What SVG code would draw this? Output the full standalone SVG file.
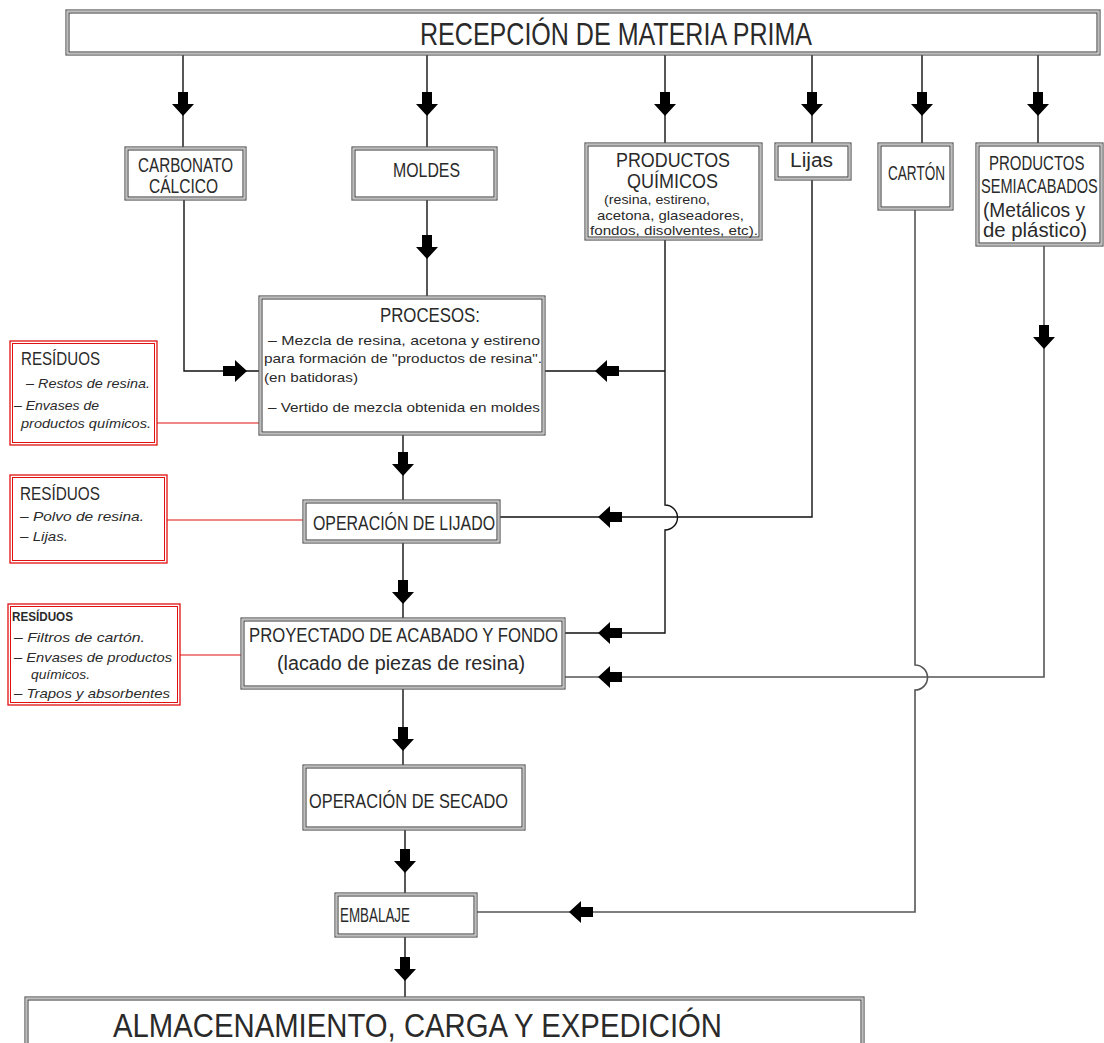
<svg xmlns="http://www.w3.org/2000/svg" xmlns:xlink="http://www.w3.org/1999/xlink" width="1104" height="1043" viewBox="0 0 1104 1043">
<style>
.bo{fill:#fff;stroke:#555;stroke-width:1.2}
.bg{fill:none;stroke:#bdbdbd;stroke-width:1.4}
.bi{fill:none;stroke:#333;stroke-width:1}
.ro{fill:#fff;stroke:#e01010;stroke-width:1.3}
.ri{fill:none;stroke:#e01010;stroke-width:1}
.ln{fill:none;stroke:#111;stroke-width:1.4}
.lg{fill:none;stroke:#555;stroke-width:1.6}
.rl{fill:none;stroke:#e01010;stroke-width:1.2}
text{font-family:"Liberation Sans","DejaVu Sans",sans-serif;fill:#2a2a2a}
.t{font-size:20px}
.s{font-size:13.5px}
.it{font-size:13.5px;font-style:italic}
</style>
<defs>
<path id="ad" d="M-5,-24 H5 V-12 H11 L0,0 L-11,-12 H-5 Z" fill="#000"/>
</defs>

<g id="connectors">
<path class="ln" d="M183,55 V147 M427,55 V147 M665,55 V143 M812,55 V143 M922,55 V143 M1038,55 V143"/>
<use xlink:href="#ad" x="183" y="116"/>
<use xlink:href="#ad" x="427" y="116"/>
<use xlink:href="#ad" x="665" y="116"/>
<use xlink:href="#ad" x="812" y="116"/>
<use xlink:href="#ad" x="922" y="116"/>
<use xlink:href="#ad" x="1038" y="116"/>
<path class="ln" d="M427,200 V296"/>
<use xlink:href="#ad" x="427" y="259"/>
<path class="ln" d="M184,200 V371 H259"/>
<use xlink:href="#ad" transform="translate(247,371) rotate(-90)"/>
<path class="ln" d="M665,240 V505 A12.5,12.5 0 0 1 665,530 V633 H565 M665,371 H545"/>
<use xlink:href="#ad" transform="translate(595,371) rotate(90)"/>
<use xlink:href="#ad" transform="translate(598,633) rotate(90)"/>
<path class="ln" d="M812,180 V517 H500"/>
<use xlink:href="#ad" transform="translate(598,517) rotate(90)"/>
<path class="lg" d="M915,210 V665 A12.5,12.5 0 0 1 915,690 V912 H477"/>
<use xlink:href="#ad" transform="translate(569,912) rotate(90)"/>
<path class="lg" d="M1044,246 V677 H565"/>
<use xlink:href="#ad" x="1044" y="349"/>
<use xlink:href="#ad" transform="translate(598,677) rotate(90)"/>
<path class="ln" d="M403,435 V500"/>
<use xlink:href="#ad" x="403" y="476"/>
<path class="ln" d="M403,543 V618"/>
<use xlink:href="#ad" x="403" y="604"/>
<path class="ln" d="M403,689 V765"/>
<use xlink:href="#ad" x="403" y="751"/>
<path class="ln" d="M405,830 V893"/>
<use xlink:href="#ad" x="405" y="873"/>
<path class="ln" d="M405,937 V997"/>
<use xlink:href="#ad" x="405" y="981"/>
<path class="rl" d="M157,423 H259"/>
<path class="rl" d="M167,520 H303"/>
<path class="rl" d="M180,655 H241"/>
</g>

<g id="recepcion">
<rect class="bo" x="66" y="10" width="1034" height="45"/>
<rect class="bg" x="67.5" y="11.5" width="1031" height="42"/>
<rect class="bi" x="69" y="13" width="1028" height="39"/>
<text x="420" y="45" font-size="32" textLength="392" lengthAdjust="spacingAndGlyphs">RECEPCIÓN  DE  MATERIA  PRIMA</text>
</g>

<g id="carbonato">
<rect class="bo" x="125" y="147" width="121" height="53"/>
<rect class="bg" x="126.5" y="148.5" width="118" height="50"/>
<rect class="bi" x="128" y="150" width="115" height="47"/>
<text class="t" x="138" y="172" textLength="95" lengthAdjust="spacingAndGlyphs">CARBONATO</text>
<text class="t" x="149" y="193" textLength="69" lengthAdjust="spacingAndGlyphs">CÁLCICO</text>
</g>

<g id="moldes">
<rect class="bo" x="352" y="147" width="145" height="53"/>
<rect class="bg" x="353.5" y="148.5" width="142" height="50"/>
<rect class="bi" x="355" y="150" width="139" height="47"/>
<text class="t" x="393" y="177" textLength="67" lengthAdjust="spacingAndGlyphs">MOLDES</text>
</g>

<g id="quimicos">
<rect class="bo" x="585" y="143" width="177" height="97"/>
<rect class="bg" x="586.5" y="144.5" width="174" height="94"/>
<rect class="bi" x="588" y="146" width="171" height="91"/>
<text class="t" x="616" y="167" textLength="114" lengthAdjust="spacingAndGlyphs">PRODUCTOS</text>
<text class="t" x="627" y="188" textLength="91" lengthAdjust="spacingAndGlyphs">QUÍMICOS</text>
<text class="s" x="604" y="204" textLength="106" lengthAdjust="spacingAndGlyphs">(resina,  estireno,</text>
<text class="s" x="597" y="220" textLength="147" lengthAdjust="spacingAndGlyphs">acetona,  glaseadores,</text>
<text class="s" x="590" y="235" textLength="168" lengthAdjust="spacingAndGlyphs">fondos,  disolventes,  etc).</text>
</g>

<g id="lijas">
<rect class="bo" x="775" y="143" width="76" height="37"/>
<rect class="bg" x="776.5" y="144.5" width="73" height="34"/>
<rect class="bi" x="778" y="146" width="70" height="31"/>
<text class="t" x="790" y="167" textLength="43" lengthAdjust="spacingAndGlyphs">Lijas</text>
</g>

<g id="carton">
<rect class="bo" x="878" y="143" width="75" height="67"/>
<rect class="bg" x="879.5" y="144.5" width="72" height="64"/>
<rect class="bi" x="881" y="146" width="69" height="61"/>
<text class="t" x="888" y="180" textLength="57" lengthAdjust="spacingAndGlyphs">CARTÓN</text>
</g>

<g id="semiacabados">
<rect class="bo" x="976" y="143" width="127" height="103"/>
<rect class="bg" x="977.5" y="144.5" width="124" height="100"/>
<rect class="bi" x="979" y="146" width="121" height="97"/>
<text class="t" transform="translate(989,170) scale(0.75,1)">PRODUCTOS</text>
<text class="t" transform="translate(981,193) scale(0.73,1)">SEMIACABADOS</text>
<text class="t" x="983" y="217" textLength="102" lengthAdjust="spacingAndGlyphs">(Metálicos  y</text>
<text class="t" x="983" y="237" textLength="104" lengthAdjust="spacingAndGlyphs">de  plástico)</text>
</g>

<g id="procesos">
<rect class="bo" x="259" y="296" width="286" height="139"/>
<rect class="bg" x="260.5" y="297.5" width="283" height="136"/>
<rect class="bi" x="262" y="299" width="280" height="133"/>
<text class="t" x="380" y="322" textLength="100" lengthAdjust="spacingAndGlyphs">PROCESOS:</text>
<text class="s" x="268" y="345" textLength="272" lengthAdjust="spacingAndGlyphs">–  Mezcla  de  resina,  acetona  y  estireno</text>
<text class="s" x="264" y="363" textLength="278" lengthAdjust="spacingAndGlyphs">para  formación  de  "productos  de  resina".</text>
<text class="s" x="264" y="382" textLength="94" lengthAdjust="spacingAndGlyphs">(en  batidoras)</text>
<text class="s" x="268" y="412" textLength="272" lengthAdjust="spacingAndGlyphs">–  Vertido  de  mezcla  obtenida  en  moldes</text>
</g>

<g id="lijado">
<rect class="bo" x="303" y="500" width="197" height="43"/>
<rect class="bg" x="304.5" y="501.5" width="194" height="40"/>
<rect class="bi" x="306" y="503" width="191" height="37"/>
<text class="t" x="313" y="530" textLength="182" lengthAdjust="spacingAndGlyphs">OPERACIÓN  DE  LIJADO</text>
</g>

<g id="proyectado">
<rect class="bo" x="241" y="618" width="324" height="71"/>
<rect class="bg" x="242.5" y="619.5" width="321" height="68"/>
<rect class="bi" x="244" y="621" width="318" height="65"/>
<text class="t" x="249" y="642" textLength="309" lengthAdjust="spacingAndGlyphs">PROYECTADO  DE  ACABADO  Y  FONDO</text>
<text class="t" x="277" y="670" textLength="248" lengthAdjust="spacingAndGlyphs">(lacado  de  piezas  de  resina)</text>
</g>

<g id="secado">
<rect class="bo" x="303" y="765" width="222" height="65"/>
<rect class="bg" x="304.5" y="766.5" width="219" height="62"/>
<rect class="bi" x="306" y="768" width="216" height="59"/>
<text class="t" x="309" y="808" textLength="199" lengthAdjust="spacingAndGlyphs">OPERACIÓN  DE  SECADO</text>
</g>

<g id="embalaje">
<rect class="bo" x="335" y="893" width="142" height="44"/>
<rect class="bg" x="336.5" y="894.5" width="139" height="41"/>
<rect class="bi" x="338" y="896" width="136" height="38"/>
<text class="t" x="340" y="922" textLength="70" lengthAdjust="spacingAndGlyphs">EMBALAJE</text>
</g>

<g id="almacenamiento">
<rect class="bo" x="25" y="997" width="839" height="50"/>
<rect class="bg" x="26.5" y="998.5" width="836" height="47"/>
<rect class="bi" x="28" y="1000" width="833" height="44"/>
<text x="113" y="1037" font-size="33" textLength="609" lengthAdjust="spacingAndGlyphs">ALMACENAMIENTO, CARGA Y EXPEDICIÓN</text>
</g>

<g id="residuos1">
<rect class="ro" x="10" y="341" width="147" height="104"/>
<rect class="ri" x="12.5" y="343.5" width="142" height="99"/>
<text x="21" y="365" font-size="18" textLength="79" lengthAdjust="spacingAndGlyphs">RESÍDUOS</text>
<text class="it" x="26" y="388" textLength="124" lengthAdjust="spacingAndGlyphs">–  Restos  de  resina.</text>
<text class="it" x="14" y="410" textLength="85" lengthAdjust="spacingAndGlyphs">–  Envases  de</text>
<text class="it" x="21" y="428" textLength="130" lengthAdjust="spacingAndGlyphs">productos  químicos.</text>
</g>

<g id="residuos2">
<rect class="ro" x="10" y="475" width="157" height="88"/>
<rect class="ri" x="12.5" y="477.5" width="152" height="83"/>
<text x="20" y="500" font-size="18" textLength="80" lengthAdjust="spacingAndGlyphs">RESÍDUOS</text>
<text class="it" x="20" y="521" textLength="124" lengthAdjust="spacingAndGlyphs">–  Polvo  de  resina.</text>
<text class="it" x="20" y="541" textLength="48" lengthAdjust="spacingAndGlyphs">–  Lijas.</text>
</g>

<g id="residuos3">
<rect class="ro" x="8" y="604" width="172" height="101"/>
<rect class="ri" x="10.5" y="606.5" width="167" height="96"/>
<text x="12" y="621" font-size="12.5" font-weight="bold" textLength="61" lengthAdjust="spacingAndGlyphs">RESÍDUOS</text>
<text class="it" x="14" y="642" textLength="131" lengthAdjust="spacingAndGlyphs">–  Filtros  de  cartón.</text>
<text class="it" x="14" y="662" textLength="158" lengthAdjust="spacingAndGlyphs">–  Envases  de  productos</text>
<text class="it" x="31" y="679" textLength="59" lengthAdjust="spacingAndGlyphs">químicos.</text>
<text class="it" x="14" y="698" textLength="156" lengthAdjust="spacingAndGlyphs">–  Trapos  y  absorbentes</text>
</g>
</svg>
